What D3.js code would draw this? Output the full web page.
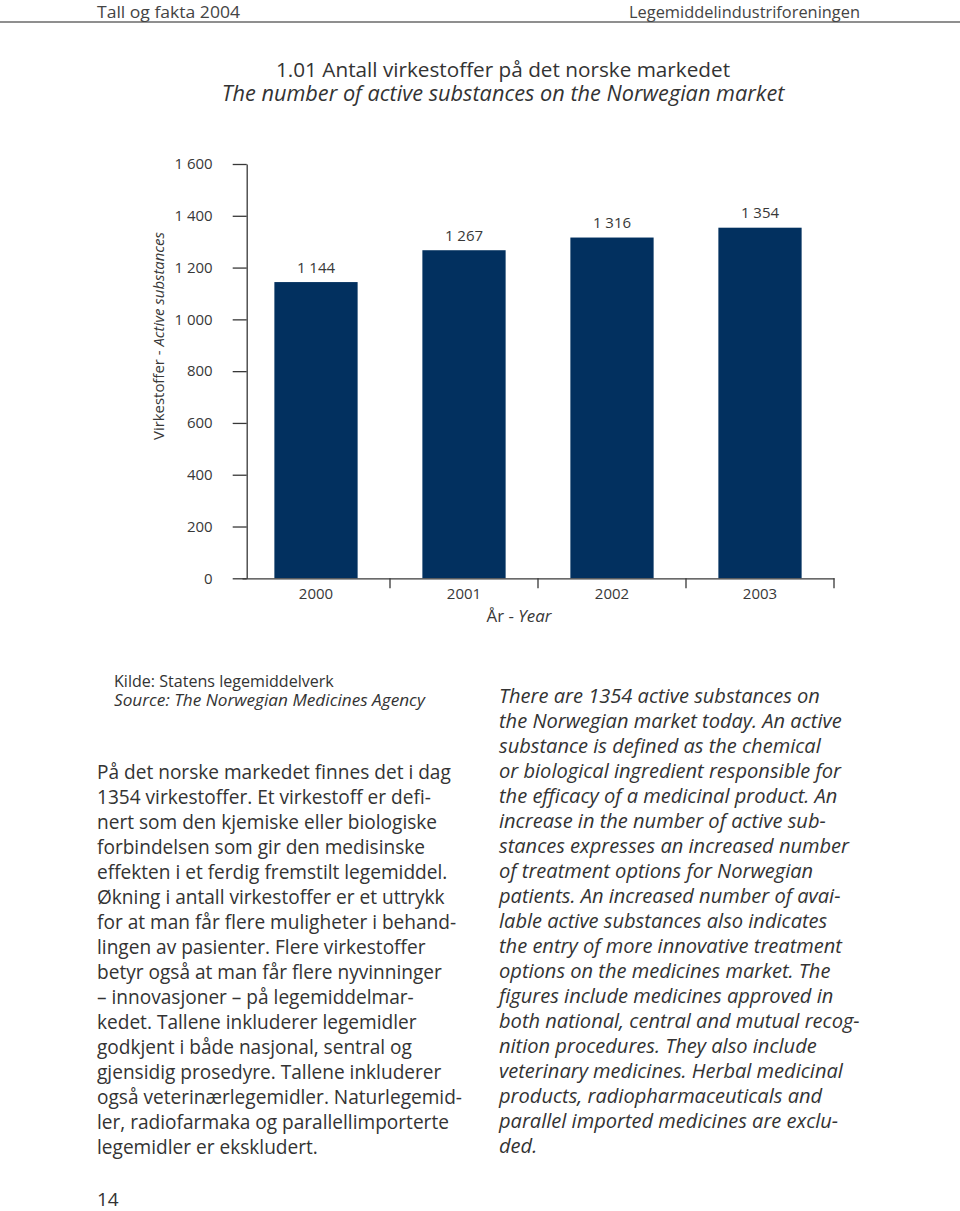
<!DOCTYPE html>
<html><head><meta charset="utf-8">
<script src="https://cdn.jsdelivr.net/npm/d3@7"></script>
<style>
body{margin:0;background:#fff}
svg{display:block}
text{font-family:"Open Sans","Noto Sans",sans-serif}
</style>
</head><body>
<svg id="c" width="960" height="1211"></svg>
<script>
// ---------- data ----------
const years = ["2000", "2001", "2002", "2003"];
const values = [1144, 1267, 1316, 1354];
const yTicks = [0, 200, 400, 600, 800, 1000, 1200, 1400, 1600];
const yMax = 1600;

const headerLeft = "Tall og fakta 2004";
const headerRight = "Legemiddelindustriforeningen";
const titleNo = "1.01 Antall virkestoffer på det norske markedet";
const titleEn = "The number of active substances on the Norwegian market";
const yTitleNo = "Virkestoffer - ";
const yTitleEn = "Active substances";
const xTitleNo = "År - ";
const xTitleEn = "Year";
const sourceNo = "Kilde: Statens legemiddelverk";
const sourceEn = "Source: The Norwegian Medicines Agency";
const pageNumber = "14";

const textNo = [
  "På det norske markedet finnes det i dag",
  "1354 virkestoffer. Et virkestoff er defi-",
  "nert som den kjemiske eller biologiske",
  "forbindelsen som gir den medisinske",
  "effekten i et ferdig fremstilt legemiddel.",
  "Økning i antall virkestoffer er et uttrykk",
  "for at man får flere muligheter i behand-",
  "lingen av pasienter. Flere virkestoffer",
  "betyr også at man får flere nyvinninger",
  "– innovasjoner – på legemiddelmar-",
  "kedet. Tallene inkluderer legemidler",
  "godkjent i både nasjonal, sentral og",
  "gjensidig prosedyre. Tallene inkluderer",
  "også veterinærlegemidler. Naturlegemid-",
  "ler, radiofarmaka og parallellimporterte",
  "legemidler er ekskludert."
];
const textEn = [
  "There are 1354 active substances on",
  "the Norwegian market today. An active",
  "substance is defined as the chemical",
  "or biological ingredient responsible for",
  "the efficacy of a medicinal product. An",
  "increase in the number of active sub-",
  "stances expresses an increased number",
  "of treatment options for Norwegian",
  "patients. An increased number of avai-",
  "lable active substances also indicates",
  "the entry of more innovative treatment",
  "options on the medicines market. The",
  "figures include medicines approved in",
  "both national, central and mutual recog-",
  "nition procedures. They also include",
  "veterinary medicines. Herbal medicinal",
  "products, radiopharmaceuticals and",
  "parallel imported medicines are exclu-",
  "ded."
];

// ---------- helpers ----------
const svg = d3.select("#c");
const TXT = "#333";
const AX = "#383838";
const BAR = "#02305f";

function fit(sel, target) {
  const fs = parseFloat(sel.attr("font-size"));
  const w = sel.node().getComputedTextLength();
  if (w > 0) sel.attr("font-size", (fs * target / w).toFixed(2));
  return sel;
}

const nbLocale = d3.formatLocale({decimal: ",", thousands: "\u00a0", grouping: [3], currency: ["", ""]});
const fmt = nbLocale.format(",");

// ---------- page header ----------
svg.append("line").attr("x1", 0).attr("x2", 960).attr("y1", 22).attr("y2", 22)
  .attr("stroke", "#6a6a6a").attr("stroke-width", 1.4);
svg.append("text").attr("x", 97).attr("y", 18).attr("font-size", 17).attr("fill", "#444")
  .attr("textLength", 143).attr("lengthAdjust", "spacingAndGlyphs").text(headerLeft);
svg.append("text").attr("x", 629).attr("y", 18).attr("font-size", 17).attr("fill", "#444")
  .attr("textLength", 231).attr("lengthAdjust", "spacingAndGlyphs").text(headerRight);

// ---------- title ----------
const t1 = svg.append("text").attr("x", 503).attr("y", 77).attr("text-anchor", "middle")
  .attr("font-size", 20).attr("fill", TXT).text(titleNo);
fit(t1, 454);
const t2 = svg.append("text").attr("x", 503).attr("y", 101).attr("text-anchor", "middle")
  .attr("font-size", 20).attr("font-style", "italic").attr("fill", TXT).text(titleEn);
fit(t2, 563);

// ---------- chart ----------
const x = d3.scaleBand().domain(years).range([242, 834]).paddingInner(0.4375).paddingOuter(0.21875);
const y = d3.scaleLinear().domain([0, yMax]).range([578.3, 164]);

// bars
svg.append("g").selectAll("rect").data(values).join("rect")
  .attr("x", (d, i) => x(years[i]))
  .attr("width", x.bandwidth())
  .attr("y", d => y(d))
  .attr("height", d => y(0) - y(d))
  .attr("fill", BAR);

// value labels
svg.append("g").selectAll("text").data(values).join("text")
  .attr("x", (d, i) => x(years[i]) + x.bandwidth() / 2)
  .attr("y", d => y(d) - 9.5)
  .attr("text-anchor", "middle").attr("font-size", 15).attr("fill", AX)
  .text(d => fmt(d));

// y axis
const gy = svg.append("g").attr("transform", "translate(246.7,0)")
  .call(d3.axisLeft(y).tickValues(yTicks).tickFormat(fmt).tickSize(14).tickSizeOuter(0).tickPadding(20));
gy.selectAll("path,line").attr("stroke", AX).attr("stroke-width", 1.3);
gy.selectAll("text").attr("font-size", 15).attr("fill", AX).attr("font-family", null);

// x axis
const gx = svg.append("g").attr("transform", `translate(0,${y(0)})`)
  .call(d3.axisBottom(x).tickSize(0).tickSizeOuter(0).tickPadding(10));
gx.select(".domain").attr("stroke", AX).attr("stroke-width", 1.3);
gx.selectAll("text").attr("font-size", 15).attr("fill", AX).attr("font-family", null);
// category boundary ticks
gx.append("g").selectAll("line").data(years).join("line")
  .attr("x1", d => x(d) + x.bandwidth() + x.step() * x.paddingInner() / 2)
  .attr("x2", d => x(d) + x.bandwidth() + x.step() * x.paddingInner() / 2)
  .attr("y1", 0).attr("y2", 10).attr("stroke", AX).attr("stroke-width", 1.3);

// axis titles
const xt = svg.append("text").attr("x", 519).attr("y", 622).attr("text-anchor", "middle")
  .attr("font-size", 15).attr("fill", AX);
xt.append("tspan").text(xTitleNo);
xt.append("tspan").attr("font-style", "italic").text(xTitleEn);
fit(xt, 65);

const yt = svg.append("text").attr("transform", "translate(164,336) rotate(-90)")
  .attr("text-anchor", "middle").attr("font-size", 15).attr("fill", AX);
yt.append("tspan").text(yTitleNo);
yt.append("tspan").attr("font-style", "italic").text(yTitleEn);
fit(yt, 208);

// ---------- source ----------
const s1 = svg.append("text").attr("x", 114).attr("y", 686.5).attr("font-size", 15).attr("fill", TXT).text(sourceNo);
fit(s1, 220);
const s2 = svg.append("text").attr("x", 114).attr("y", 705.5).attr("font-size", 15)
  .attr("font-style", "italic").attr("fill", TXT).text(sourceEn);
fit(s2, 311);

// ---------- paragraphs ----------
function paragraph(lines, x0, y0, italic, refWidth) {
  const g = svg.append("g");
  const ts = g.selectAll("text").data(lines).join("text")
    .attr("x", x0).attr("y", (d, i) => y0 + i * 25)
    .attr("font-size", 18).attr("fill", TXT)
    .attr("font-style", italic ? "italic" : null)
    .text(d => d);
  const w = ts.nodes()[0].getComputedTextLength();
  ts.attr("font-size", (18 * refWidth / w).toFixed(2));
}
paragraph(textNo, 97, 779.3, false, 354);
paragraph(textEn, 499, 703.3, true, 321);

// page number
svg.append("text").attr("x", 97).attr("y", 1206).attr("font-size", 19).attr("fill", TXT).text(pageNumber);
</script>
</body></html>
